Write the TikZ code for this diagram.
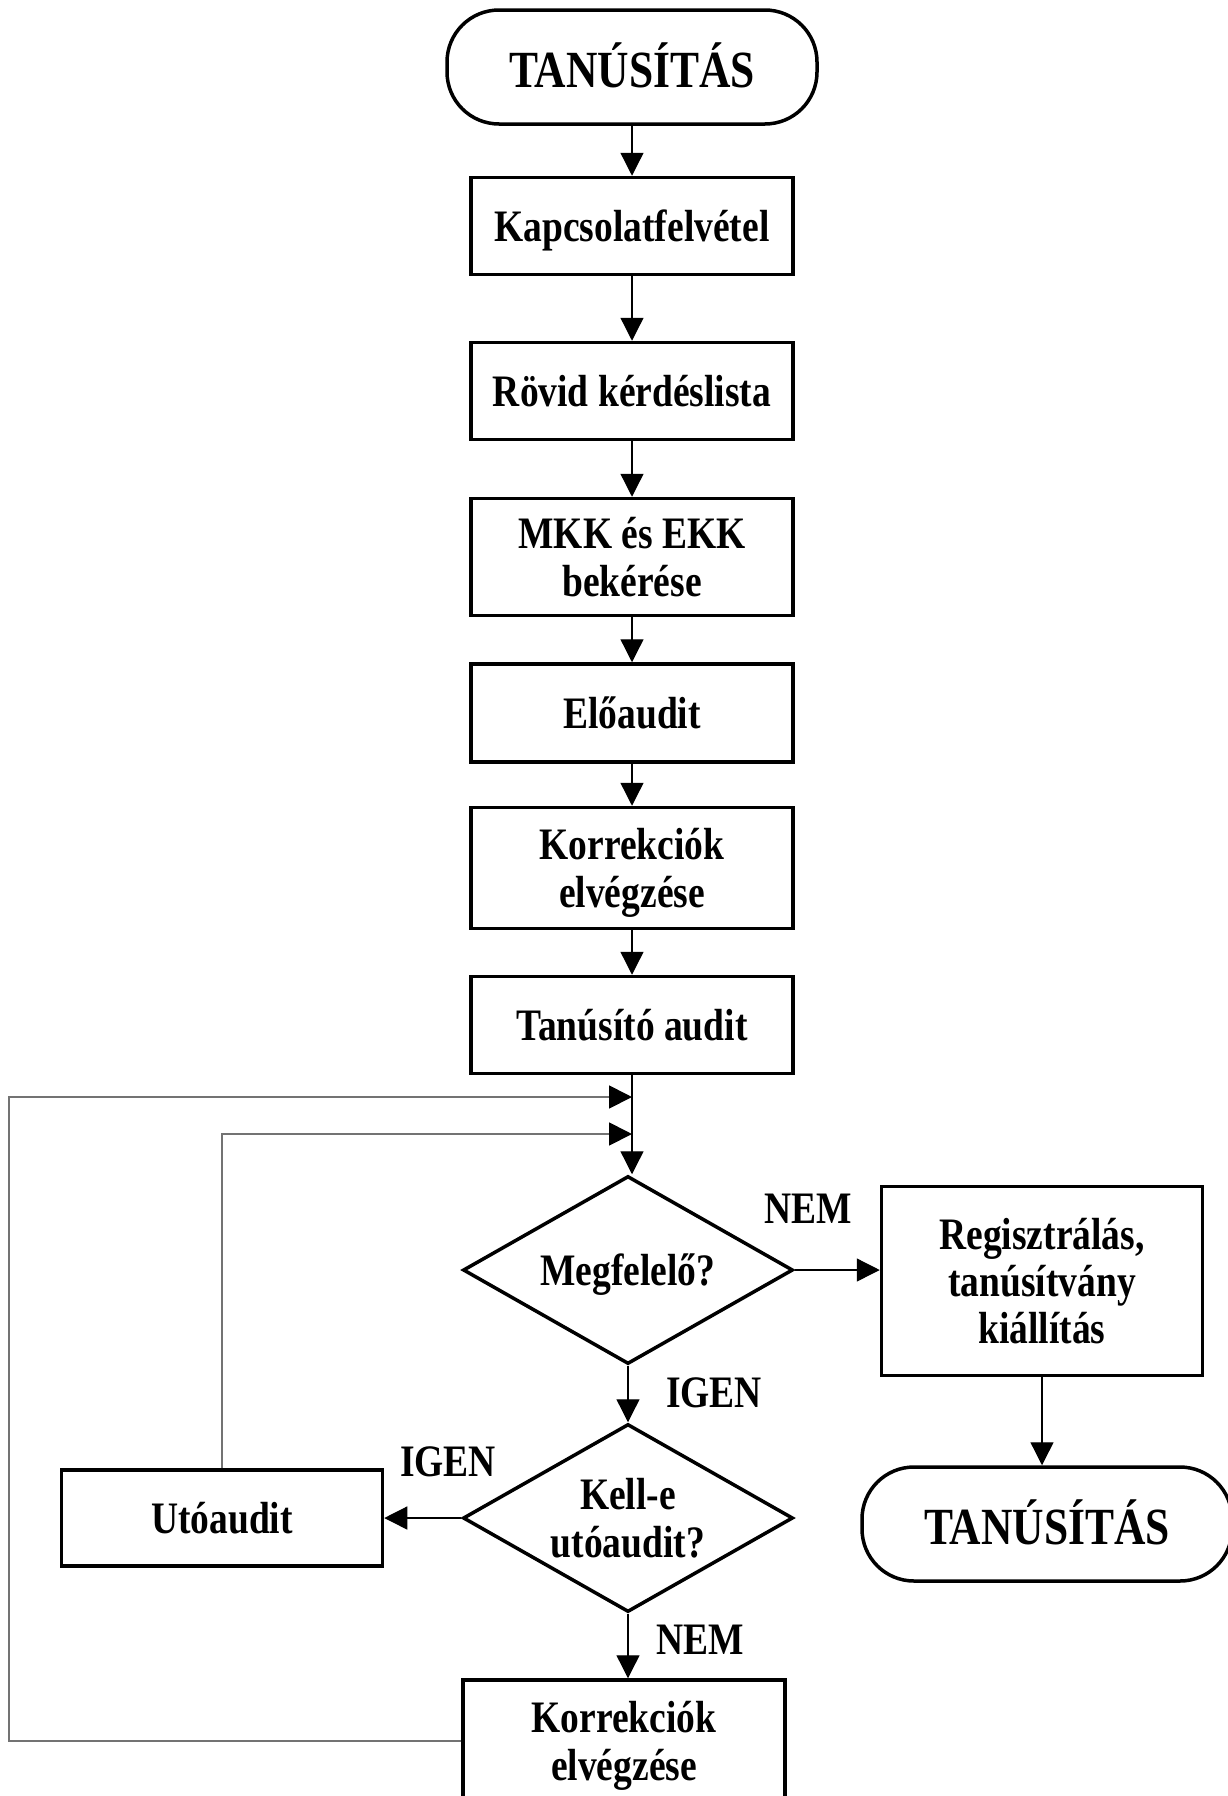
\documentclass[tikz,border=0pt]{standalone}
\usepackage{graphicx}
\usepackage{fontspec}
\setmainfont{Liberation Serif}
\usetikzlibrary{arrows.meta,shapes.geometric}
\newcommand\tx[1]{\raisebox{-6pt}[\height][\depth]{\scalebox{1}[1.2]{\begin{tabular}{@{}c@{}}#1\end{tabular}}}}
\tikzset{
  stepbox/.style={draw, line width=3.5pt, minimum width=322pt, inner sep=0pt,
    font=\fontsize{37.5}{39.3}\selectfont\bfseries},
  termbox/.style={draw, line width=3.5pt, minimum width=370pt, minimum height=114pt,
    rounded corners=52pt, inner sep=0pt, font=\fontsize{43.5}{44}\selectfont\bfseries},
  decbox/.style={draw, diamond, aspect=1.75, line width=3.5pt, minimum width=330pt, minimum height=188pt,
    inner sep=0pt, font=\fontsize{37.5}{39.3}\selectfont\bfseries},
  lbl/.style={inner sep=0pt, font=\fontsize{37.5}{39.3}\selectfont\bfseries},
  arr/.style={-{Triangle[length=23pt,width=23pt]}, line width=1.3pt},
  fb/.style={-{Triangle[length=23pt,width=23pt,color=black]}, line width=1.8pt, draw=black!55},
}
\begin{document}
\begin{tikzpicture}[x=1pt,y=-1pt]
\clip (0,0) rectangle (1228,1796);
\fill[white] (0,0) rectangle (1228,1796);
\node[termbox] (t1) at (632,67) {\tx{TANÚSÍTÁS}};
\node[stepbox, minimum height=97pt] (b1) at (632,226) {\tx{Kapcsolatfelvétel}};
\node[stepbox, minimum height=97pt] (b2) at (632,391) {\tx{Rövid kérdéslista}};
\node[stepbox, minimum height=117pt] (b3) at (632,557) {\tx{MKK és EKK\\bekérése}};
\node[stepbox, minimum height=98pt] (b4) at (632,713) {\tx{Előaudit}};
\node[stepbox, minimum height=121pt] (b5) at (632,868) {\tx{Korrekciók\\elvégzése}};
\node[stepbox, minimum height=97pt] (b6) at (632,1025) {\tx{Tanúsító audit}};
\node[decbox] (d1) at (628,1270) {\tx{Megfelelő?}};
\node[stepbox, minimum width=321pt, minimum height=189pt] (r1) at (1042,1281) {\tx{Regisztrálás,\\tanúsítvány\\kiállítás}};
\node[termbox] (t2) at (1047,1524) {\tx{TANÚSÍTÁS}};
\node[decbox] (d2) at (628,1518) {\tx{Kell-e\\utóaudit?}};
\node[stepbox, minimum width=321pt, minimum height=96pt] (u1) at (222,1518) {\tx{Utóaudit}};
\node[stepbox, minimum height=122pt] (b7) at (624,1741) {\tx{Korrekciók\\elvégzése}};

\node[lbl] (l1) at (808,1208) {\tx{NEM}};
\node[lbl] (l2) at (714,1392) {\tx{IGEN}};
\node[lbl] (l3) at (448,1461) {\tx{IGEN}};
\node[lbl] (l4) at (700,1639) {\tx{NEM}};

\coordinate (m1) at (632,1097);
\coordinate (m2) at (632,1134);

\draw[arr] (t1) -- (b1);
\draw[arr] (b1) -- (b2);
\draw[arr] (b2) -- (b3);
\draw[arr] (b3) -- (b4);
\draw[arr] (b4) -- (b5);
\draw[arr] (b5) -- (b6);
\draw[arr] (b6.south) -- (b6.south |- d1.north);
\draw[arr] (d1.east) -- (d1.east -| r1.west);
\draw[arr] (d1.south) -- (d2.north);
\draw[arr] (d2.west) -- (u1.east);
\draw[arr] (d2.south) -- (d2.south |- b7.north);
\draw[arr] (r1.south) -- (r1.south |- t2.north);
\draw[fb] (b7.west) -- (9,1741) -- (9,1097) -- (m1);
\draw[fb] (u1.north) -- (u1.north |- m2) -- (m2);
\end{tikzpicture}
\end{document}
